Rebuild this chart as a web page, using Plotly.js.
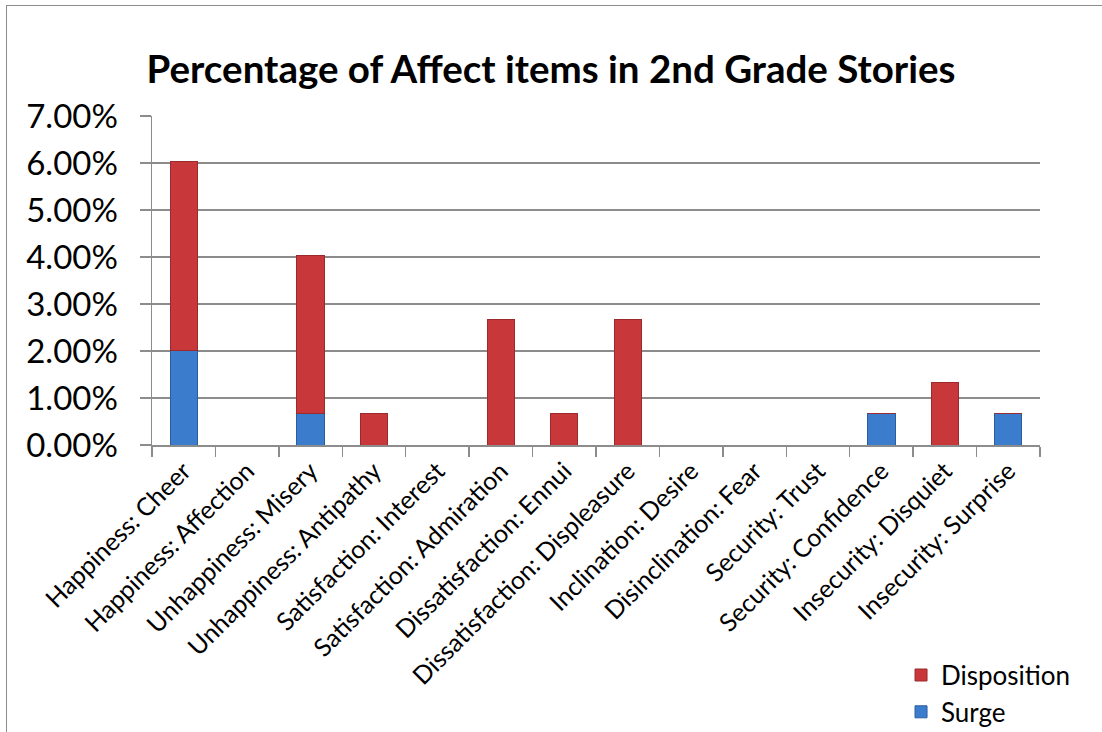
<!DOCTYPE html>
<html>
<head>
<meta charset="utf-8">
<script src="https://cdn.plot.ly/plotly-3.0.1.min.js"></script>
<style>
  html, body { margin: 0; padding: 0; background: #fff; overflow: hidden; }
  #frame { position: absolute; left: 6px; top: 5px; width: 1200px; height: 800px;
           border: 1.5px solid #8c8c8c; box-sizing: border-box; pointer-events: none; }
  #chart { position: absolute; left: 0; top: 0; width: 1102px; height: 732px; }
</style>
</head>
<body>
<div id="chart"></div>
<div id="frame"></div>
<script>
// Affect categories along the x axis
const categories = [
  "Happiness: Cheer", "Happiness: Affection", "Unhappiness: Misery",
  "Unhappiness: Antipathy", "Satisfaction: Interest", "Satisfaction: Admiration",
  "Dissatisfaction: Ennui", "Dissatisfaction: Displeasure", "Inclination: Desire",
  "Disinclination: Fear", "Security: Trust", "Security: Confidence",
  "Insecurity: Disquiet", "Insecurity: Surprise"
];

// Share of all affect items (fractions)
const surge = [0.0201, 0, 0.0067, 0, 0, 0, 0, 0, 0, 0, 0, 0.0067, 0, 0.0067];
const disposition = [0.0403, 0, 0.0336, 0.0067, 0, 0.0268, 0.0067, 0.0268, 0, 0, 0, 0, 0.0134, 0];

const yTicks = [0, 0.01, 0.02, 0.03, 0.04, 0.05, 0.06, 0.07];

const font = "Lato, 'Open Sans', sans-serif";

const traces = [
  {
    type: "bar", name: "Surge", x: categories, y: surge,
    marker: { color: "#3b7dcc", line: { color: "#2a5e9e", width: 1 } },
    hoverinfo: "x+y+name"
  },
  {
    type: "bar", name: "Disposition", x: categories, y: disposition,
    marker: { color: "#c8383a", line: { color: "#9a2a2c", width: 1 } },
    hoverinfo: "x+y+name"
  }
];

const layout = {
  width: 1102, height: 732,
  barmode: "stack",
  bargap: 0.57,
  paper_bgcolor: "#fff", plot_bgcolor: "#fff",
  margin: { l: 152, r: 62, t: 116, b: 287, autoexpand: false },
  font: { family: font, color: "#000" },
  title: {
    text: "<b>Percentage of Affect items in 2nd Grade Stories</b>",
    font: { family: font, size: 38.5, color: "#000" },
    x: 0.5, xanchor: "center", y: 0.905, yanchor: "middle"
  },
  xaxis: {
    type: "category",
    automargin: false,
    tickangle: -45,
    tickfont: { family: font, size: 25 },
    ticks: "outside", tickson: "boundaries", ticklen: 10, tickwidth: 1.5, tickcolor: "#8c8c8c",
    showline: true, linecolor: "#8c8c8c", linewidth: 1.5,
    showgrid: false, zeroline: false
  },
  yaxis: {
    automargin: false,
    range: [0, 0.07],
    tickvals: yTicks,
    tickformat: ".2%",
    tickfont: { family: font, size: 33 },
    ticks: "outside", ticklen: 11, tickwidth: 1.5, tickcolor: "#8c8c8c",
    ticklabelstandoff: 15,
    showline: true, linecolor: "#8c8c8c", linewidth: 1.5,
    showgrid: true, gridcolor: "#8c8c8c", gridwidth: 1.5,
    zeroline: false
  },
  legend: {
    x: 0.8435, xanchor: "left", y: -0.628, yanchor: "top",
    font: { family: font, size: 26 },
    itemwidth: 30,
    bgcolor: "rgba(0,0,0,0)"
  },
  showlegend: true
};

Plotly.newPlot("chart", traces, layout, { displayModeBar: false, staticPlot: true });
</script>
</body>
</html>
